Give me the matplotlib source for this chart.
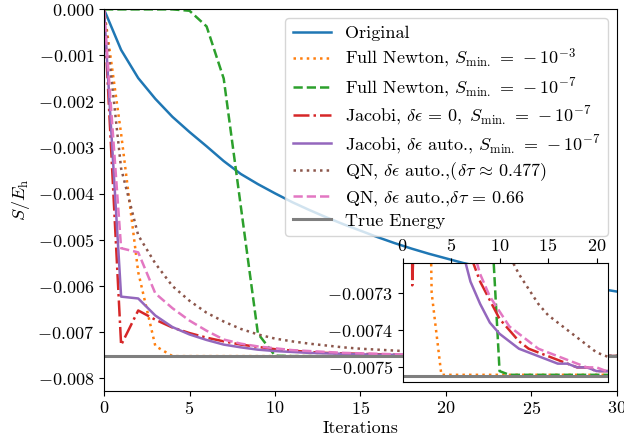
import numpy as np
import matplotlib
matplotlib.use("Agg")
import matplotlib.pyplot as plt

# Computer Modern look without usetex
plt.rcParams['font.family'] = 'serif'
plt.rcParams['font.serif'] = ['cmr10']
plt.rcParams['mathtext.fontset'] = 'cm'
plt.rcParams['axes.formatter.use_mathtext'] = True
plt.rcParams['font.size'] = 13

iterations = list(range(31))

original = [0, -0.00088, -0.00149, -0.00194, -0.00233, -0.00266, -0.00297, -0.00329,
            -0.00357, -0.00379, -0.00399, -0.00418, -0.00435, -0.00451, -0.00466, -0.00480,
            -0.00494, -0.00507, -0.00519, -0.00530, -0.00540, -0.00550, -0.00558, -0.00566,
            -0.00573, -0.00580, -0.00587, -0.00594, -0.00600, -0.00606, -0.00612]
newton_3 = [0, -0.00270, -0.00570, -0.00730, -0.00752, -0.00752, -0.00752, -0.00752,
            -0.00752, -0.00752, -0.00752, -0.00752, -0.00752, -0.00752, -0.00752, -0.00752,
            -0.00752, -0.00752, -0.00752, -0.00752, -0.00752, -0.00752, -0.00752, -0.00752,
            -0.00752, -0.00752, -0.00752, -0.00752, -0.00752, -0.00752, -0.00752]
newton_7 = [0, 0, 0, 0, 0, -0.00003, -0.00037, -0.00150, -0.00427, -0.00703, -0.00751,
            -0.00752, -0.00752, -0.00752, -0.00752, -0.00752, -0.00752, -0.00752, -0.00752,
            -0.00752, -0.00752, -0.00752, -0.00752, -0.00752, -0.00752, -0.00752, -0.00752,
            -0.00752, -0.00752, -0.00752, -0.00752]
jacobi_0 = [0, -0.00728, -0.00653, -0.00673, -0.00690, -0.00702, -0.00712, -0.00720,
            -0.00727, -0.00732, -0.00737, -0.00740, -0.00743, -0.00745, -0.00746, -0.00747,
            -0.00748, -0.00749, -0.00750, -0.00750, -0.00751, -0.00751, -0.00751, -0.00752,
            -0.00752, -0.00752, -0.00752, -0.00752, -0.00752, -0.00752, -0.00752]
jacobi_auto = [0, -0.00623, -0.00627, -0.00664, -0.00689, -0.00705, -0.00717, -0.00727,
               -0.00733, -0.00738, -0.00741, -0.00743, -0.00745, -0.00746, -0.00747, -0.00748,
               -0.00749, -0.00749, -0.00750, -0.00750, -0.00751, -0.00751, -0.00751, -0.00752,
               -0.00752, -0.00752, -0.00752, -0.00752, -0.00752, -0.00752, -0.00752]
qn_0477 = [0, -0.00345, -0.00490, -0.00551, -0.00600, -0.00632, -0.00658, -0.00677,
           -0.00693, -0.00705, -0.00714, -0.00720, -0.00725, -0.00729, -0.00733, -0.00736,
           -0.00738, -0.00740, -0.00742, -0.00744, -0.00746, -0.00747, -0.00748, -0.00749,
           -0.00749, -0.00750, -0.00750, -0.00751, -0.00751, -0.00751, -0.00751]
qn_066 = [0, -0.00518, -0.00527, -0.00616, -0.00648, -0.00675, -0.00697, -0.00716,
          -0.00725, -0.00731, -0.00735, -0.00739, -0.00741, -0.00743, -0.00745, -0.00746,
          -0.00747, -0.00748, -0.00749, -0.00750, -0.00750, -0.00751, -0.00751, -0.00752,
          -0.00752, -0.00752, -0.00752, -0.00752, -0.00752, -0.00752, -0.00752]
true_energy = -0.007522

series = [
    (original, 'Original', 'C0', '-'),
    (newton_3, r'Full Newton, $S_{\mathrm{min.}}\, =\, -10^{-3}$', 'C1', ':'),
    (newton_7, r'Full Newton, $S_{\mathrm{min.}}\, =\, -10^{-7}$', 'C2', '--'),
    (jacobi_0, r'Jacobi, $\delta\epsilon\, =\, 0,\ S_{\mathrm{min.}}\, =\, -10^{-7}$', 'C3', '-.'),
    (jacobi_auto, r'Jacobi, $\delta\epsilon$ auto., $S_{\mathrm{min.}}\, =\, -10^{-7}$', 'C4', '-'),
    (qn_0477, r'QN, $\delta\epsilon$ auto.,$(\delta\tau\, \approx\, 0.477)$', 'C5', ':'),
    (qn_066, r'QN, $\delta\epsilon$ auto.,$\delta\tau\, =\, 0.66$', 'C6', '--'),
]

fig = plt.figure(figsize=(6.24, 4.46), dpi=100)
ax = fig.add_axes([0.1667, 0.124, 0.822, 0.855])

for vals, label, color, ls in series:
    ax.plot(iterations, vals, color=color, linestyle=ls, lw=1.8, label=label)
ax.axhline(true_energy, color='C7', lw=2.2, label='True Energy')

ax.set_xlim(0, 30)
ax.set_ylim(-0.00827, 0)
ax.set_xticks([0, 5, 10, 15, 20, 25, 30])
ax.set_yticks([-0.008, -0.007, -0.006, -0.005, -0.004, -0.003, -0.002, -0.001, 0.0])
ax.set_xlabel('Iterations', labelpad=2)
ax.set_ylabel(r'$S/E_{\mathrm{h}}$')
ax.legend(loc='upper right', labelspacing=0.3, handlelength=2.1)

# zoomed view of the convergence tail
axins = ax.inset_axes([0.582, 0.024, 0.401, 0.310])
for vals, label, color, ls in series:
    axins.plot(iterations, vals, color=color, linestyle=ls, lw=1.8)
axins.axhline(true_energy, color='C7', lw=2.2)
axins.set_xlim(0, 21.2)
axins.set_ylim(-0.007538, -0.007221)
axins.set_xticks([0, 5, 10, 15, 20])
axins.set_yticks([-0.0075, -0.0074, -0.0073])
axins.xaxis.tick_top()
axins.yaxis.get_major_formatter().set_useOffset(False)

fig.savefig('out.png', dpi=100)
